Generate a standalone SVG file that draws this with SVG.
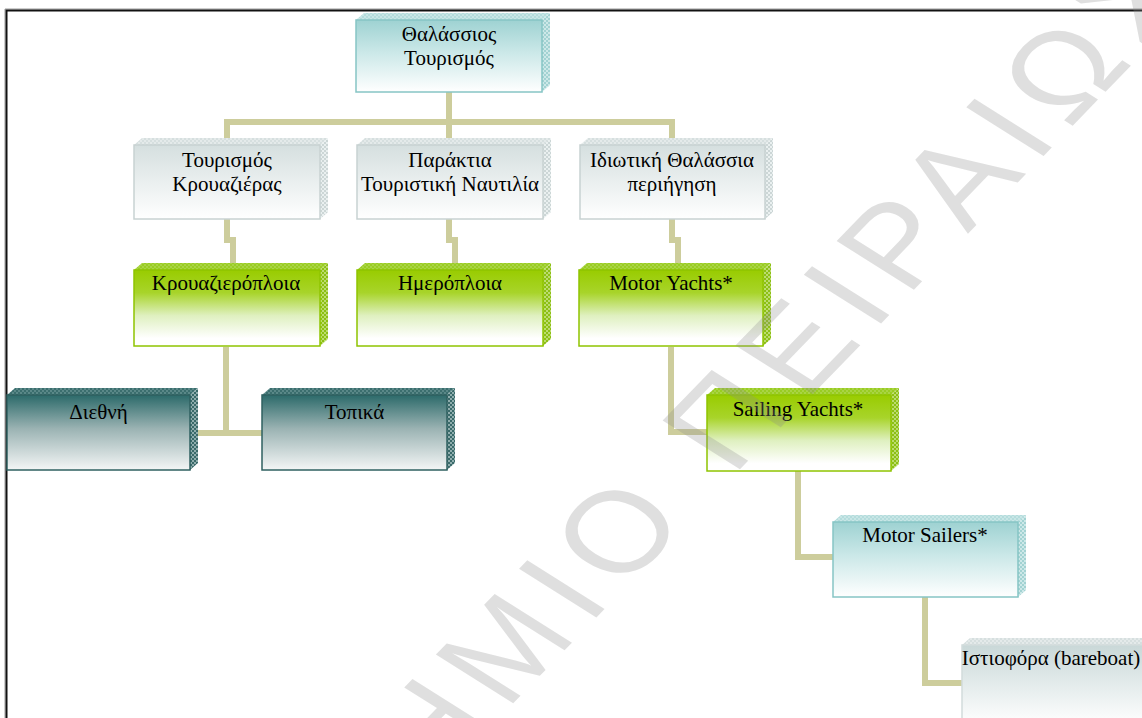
<svg xmlns="http://www.w3.org/2000/svg" width="1142" height="718" viewBox="0 0 1142 718">
<style>
text.lbl{font-family:'Liberation Serif','Times New Roman','DejaVu Serif',Times,serif;font-size:21px;fill:#000;text-anchor:middle}
.conn{fill:none;stroke:#cdcd9c;stroke-width:6;stroke-linejoin:miter}
.teal rect{fill:url(#gTeal);stroke:#86c5c5;stroke-width:1.5}
.teal .tf{fill:url(#tTeal)} .teal .sf{fill:url(#pTeal)}
.gray rect{fill:url(#gGray);stroke:#c8d2d2;stroke-width:1.5}
.gray .tf{fill:url(#tGray)} .gray .sf{fill:url(#pGray)}
.green rect{fill:url(#gGreen);stroke:#8fc400;stroke-width:1.5}
.green .tf{fill:url(#tGreen)} .green .sf{fill:url(#pGreen)}
.dark rect{fill:url(#gDark);stroke:#2f6060;stroke-width:1.5}
.dark .tf{fill:url(#tDark)} .dark .sf{fill:url(#pDark)}
.pale rect{fill:url(#gPale);stroke:#d2dcdc;stroke-width:1.5}
.pale .tf{fill:url(#tGray)} .pale .sf{fill:url(#pGray)}
text.wm{font-family:'Liberation Sans',Arial,sans-serif;font-size:115px;letter-spacing:12px;fill:#8c8c8c;fill-opacity:0.28}
</style>
<defs>
<linearGradient id="gTeal" x1="0" y1="0" x2="0" y2="1"><stop offset="0" stop-color="#9ed2d2"/><stop offset="0.45" stop-color="#cbe8e8"/><stop offset="1" stop-color="#ffffff"/></linearGradient>
<linearGradient id="gGray" x1="0" y1="0" x2="0" y2="1"><stop offset="0" stop-color="#d5dfdf"/><stop offset="1" stop-color="#ffffff"/></linearGradient>
<linearGradient id="gPale" x1="0" y1="0" x2="0" y2="1"><stop offset="0" stop-color="#c9d8d8"/><stop offset="1" stop-color="#ffffff"/></linearGradient>
<linearGradient id="gGreen" x1="0" y1="0" x2="0" y2="1"><stop offset="0" stop-color="#99cc00"/><stop offset="0.3" stop-color="#a8d42a"/><stop offset="0.6" stop-color="#dff0c0"/><stop offset="0.9" stop-color="#ffffff"/></linearGradient>
<linearGradient id="gDark" x1="0" y1="0" x2="0" y2="1"><stop offset="0" stop-color="#2c6a6a"/><stop offset="0.45" stop-color="#9bb3b3"/><stop offset="1" stop-color="#f4f6f6"/></linearGradient>
<pattern id="pTeal" width="4" height="4" patternUnits="userSpaceOnUse"><rect width="4" height="4" fill="#a2d2d2"/><rect width="2" height="2" fill="#cde8e8"/><rect x="2" y="2" width="2" height="2" fill="#cde8e8"/></pattern>
<pattern id="tTeal" width="4" height="4" patternUnits="userSpaceOnUse"><rect width="4" height="4" fill="#b4dcdc"/><rect width="2" height="2" fill="#c8e6e6"/><rect x="2" y="2" width="2" height="2" fill="#c8e6e6"/></pattern>
<pattern id="pGray" width="4" height="4" patternUnits="userSpaceOnUse"><rect width="4" height="4" fill="#ccd6d6"/><rect width="2" height="2" fill="#eaf0f0"/><rect x="2" y="2" width="2" height="2" fill="#eaf0f0"/></pattern>
<pattern id="tGray" width="4" height="4" patternUnits="userSpaceOnUse"><rect width="4" height="4" fill="#d6dfdf"/><rect width="2" height="2" fill="#e4eaea"/><rect x="2" y="2" width="2" height="2" fill="#e4eaea"/></pattern>
<pattern id="pGreen" width="4" height="4" patternUnits="userSpaceOnUse"><rect width="4" height="4" fill="#8cbf14"/><rect width="2" height="2" fill="#bcdc70"/><rect x="2" y="2" width="2" height="2" fill="#bcdc70"/></pattern>
<pattern id="tGreen" width="4" height="4" patternUnits="userSpaceOnUse"><rect width="4" height="4" fill="#99cc22"/><rect width="2" height="2" fill="#a9d444"/><rect x="2" y="2" width="2" height="2" fill="#a9d444"/></pattern>
<pattern id="pDark" width="4" height="4" patternUnits="userSpaceOnUse"><rect width="4" height="4" fill="#3a6a6a"/><rect width="2" height="2" fill="#8fadad"/><rect x="2" y="2" width="2" height="2" fill="#8fadad"/></pattern>
<pattern id="tDark" width="4" height="4" patternUnits="userSpaceOnUse"><rect width="4" height="4" fill="#3b6e6e"/><rect width="2" height="2" fill="#5a8888"/><rect x="2" y="2" width="2" height="2" fill="#5a8888"/></pattern>
</defs>
<rect width="1142" height="718" fill="#ffffff"/>
<g id="frame">
<path d="M5,718 V9 H1142" fill="none" stroke="#9a9a9a" stroke-width="1"/>
<path d="M6.5,718 V10.5 H1142" fill="none" stroke="#111" stroke-width="2"/>
</g>
<g id="connectors">
<path class="conn" d="M449,92 V122 M227,138 V122 H672 V138 M449,122 V138"/>
<path class="conn" d="M227,219 V240 H233 V263"/>
<path class="conn" d="M449,219 V240 H455 V263"/>
<path class="conn" d="M672,219 V240 H678 V263"/>
<path class="conn" d="M226,347 V433 M198,433 H262"/>
<path class="conn" d="M671,347 V432 H707"/>
<path class="conn" d="M798,471 V557 H833"/>
<path class="conn" d="M925,597 V683 H962"/>
</g>
<g id="n-thalassios" class="teal">
<polygon class="tf" points="356,20 364,13 550,13 542,20"/>
<polygon class="sf" points="542,20 550,13 550,85 542,92"/>
<rect x="356" y="20" width="186" height="72"/>
<text class="lbl" x="449" y="41">Θαλάσσιος</text>
<text class="lbl" x="449" y="65">Τουρισμός</text>
</g>
<g id="n-krouaz" class="gray">
<polygon class="tf" points="134,145 142,138 328,138 320,145"/>
<polygon class="sf" points="320,145 328,138 328,212 320,219"/>
<rect x="134" y="145" width="186" height="74"/>
<text class="lbl" x="227" y="167">Τουρισμός</text>
<text class="lbl" x="227" y="191">Κρουαζιέρας</text>
</g>
<g id="n-paraktia" class="gray">
<polygon class="tf" points="357,145 365,138 551,138 543,145"/>
<polygon class="sf" points="543,145 551,138 551,212 543,219"/>
<rect x="357" y="145" width="186" height="74"/>
<text class="lbl" x="450" y="167">Παράκτια</text>
<text class="lbl" x="450" y="191">Τουριστική Ναυτιλία</text>
</g>
<g id="n-idiotiki" class="gray">
<polygon class="tf" points="580,145 588,138 773,138 765,145"/>
<polygon class="sf" points="765,145 773,138 773,212 765,219"/>
<rect x="580" y="145" width="185" height="74"/>
<text class="lbl" x="672" y="167">Ιδιωτική Θαλάσσια</text>
<text class="lbl" x="672" y="191">περιήγηση</text>
</g>
<g id="n-krouazieroploia" class="green">
<polygon class="tf" points="134,270 142,263 328,263 320,270"/>
<polygon class="sf" points="320,270 328,263 328,339 320,346"/>
<rect x="134" y="270" width="186" height="76"/>
<text class="lbl" x="226" y="290">Κρουαζιερόπλοια</text>
</g>
<g id="n-imeroploia" class="green">
<polygon class="tf" points="357,270 365,263 551,263 543,270"/>
<polygon class="sf" points="543,270 551,263 551,339 543,346"/>
<rect x="357" y="270" width="186" height="76"/>
<text class="lbl" x="450" y="290">Ημερόπλοια</text>
</g>
<g id="n-motoryachts" class="green">
<polygon class="tf" points="579,270 587,263 771,263 763,270"/>
<polygon class="sf" points="763,270 771,263 771,339 763,346"/>
<rect x="579" y="270" width="184" height="76"/>
<text class="lbl" x="671" y="290">Motor Yachts*</text>
</g>
<g id="n-diethni" class="dark">
<polygon class="tf" points="7,395 15,388 198,388 190,395"/>
<polygon class="sf" points="190,395 198,388 198,463 190,470"/>
<rect x="7" y="395" width="183" height="75"/>
<text class="lbl" x="98.5" y="419">Διεθνή</text>
</g>
<g id="n-topika" class="dark">
<polygon class="tf" points="262,395 270,388 455,388 447,395"/>
<polygon class="sf" points="447,395 455,388 455,463 447,470"/>
<rect x="262" y="395" width="185" height="75"/>
<text class="lbl" x="354.5" y="419">Τοπικά</text>
</g>
<g id="n-sailingyachts" class="green">
<polygon class="tf" points="707,395 715,388 899,388 891,395"/>
<polygon class="sf" points="891,395 899,388 899,464 891,471"/>
<rect x="707" y="395" width="184" height="76"/>
<text class="lbl" x="798" y="416">Sailing Yachts*</text>
</g>
<g id="n-motorsailers" class="teal">
<polygon class="tf" points="833,522 841,515 1026,515 1018,522"/>
<polygon class="sf" points="1018,522 1026,515 1026,590 1018,597"/>
<rect x="833" y="522" width="185" height="75"/>
<text class="lbl" x="925" y="542">Motor Sailers*</text>
</g>
<g id="n-istioforia" class="pale">
<polygon class="tf" points="962,645 970,638 1156,638 1148,645"/>
<rect x="962" y="645" width="186" height="80"/>
<text class="lbl" x="1051" y="665">Ιστιοφόρα (bareboat)</text>
</g>
<g id="watermark">
<text class="wm" transform="scale(1.24 1) translate(-64 1315) rotate(-52)" x="0" y="0">ΠΑΝΕΠΙΣΤΗΜΙΟ ΠΕΙΡΑΙΩΣ</text>
</g>
</svg>
